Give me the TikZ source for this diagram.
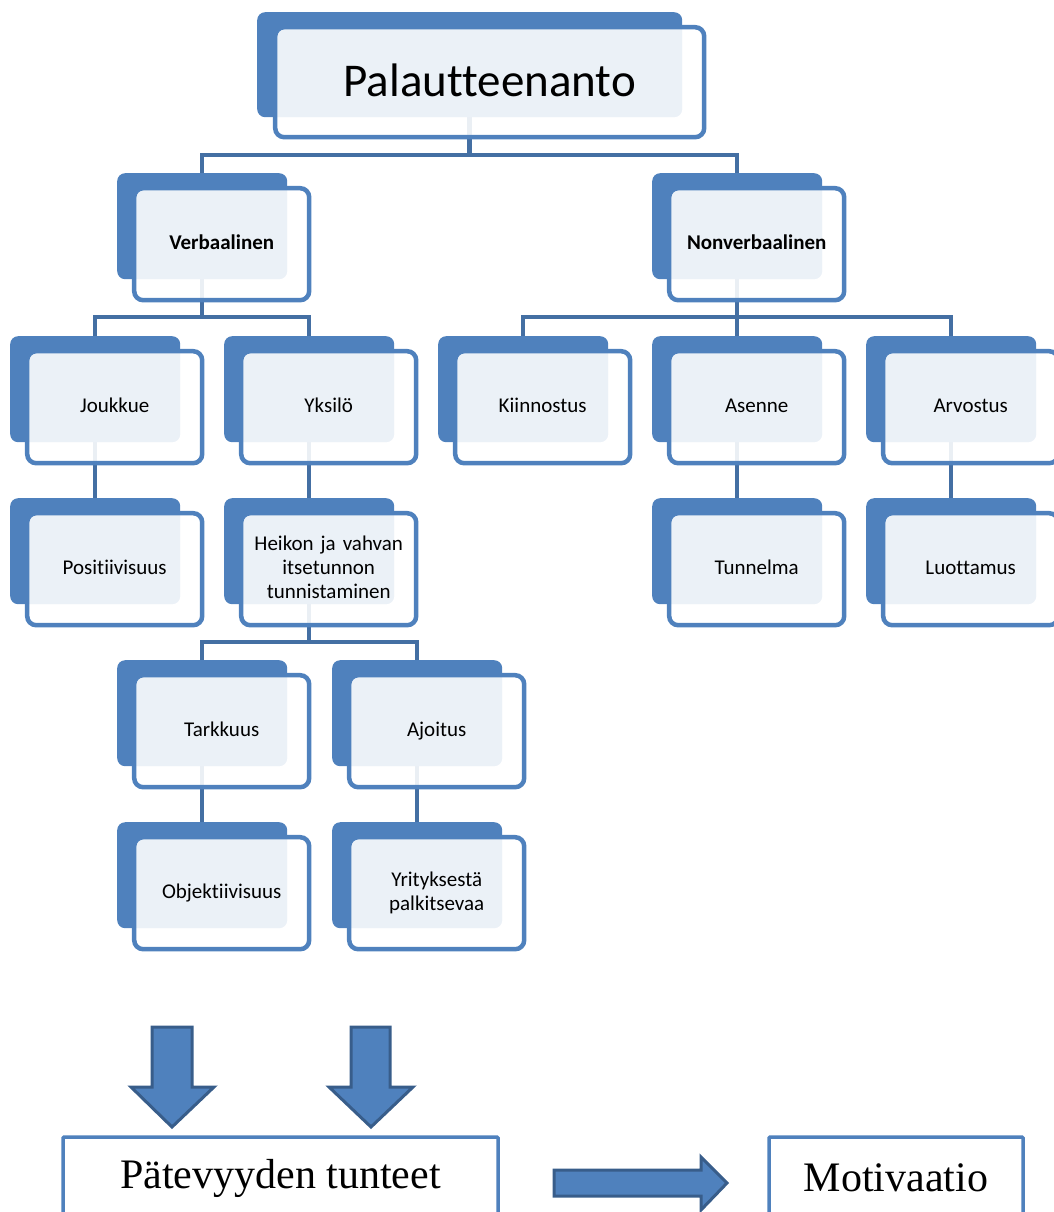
\documentclass[tikz,border=0pt]{standalone}
\usepackage{fontspec}
\setmainfont{Carlito}[Ligatures={NoCommon,TeX}]
\newfontfamily\serifface{Liberation Serif}
\usetikzlibrary{positioning}
\definecolor{boxblue}{RGB}{79,129,189}
\definecolor{lineblue}{RGB}{68,111,163}
\definecolor{edgeblue}{RGB}{56,93,138}
\pgfdeclarelayer{background}
\pgfsetlayers{background,main}

\tikzset{
   back/.style = {rectangle, rounded corners=8pt, fill=boxblue, inner sep=0pt,
                  minimum width=170pt, minimum height=106pt, anchor=north west},
   front/.style = {rectangle, rounded corners=9pt, draw=boxblue, line width=4.5pt,
                   fill=white, fill opacity=0.89, text opacity=1, align=center,
                   text width=160pt, inner xsep=7.5pt, inner ysep=0pt, minimum height=112pt,
                   execute at begin node=\strut, execute at end node=\strut,
                   font=\fontsize{21}{24}\selectfont},
   bold/.style = {font=\fontsize{21}{24}\selectfont\bfseries},
   conn/.style = {draw=lineblue, line width=4.5pt},
   outbox/.style = {rectangle, draw=boxblue, line width=3.5pt, fill=white, rounded corners=1pt,
                    minimum height=82pt, font=\serifface\fontsize{42}{50}\selectfont},
   blockarrow/.style = {fill=boxblue, draw=edgeblue, line width=3pt, line join=miter}
}

\begin{document}
\begin{tikzpicture}[x=1pt, y=-1pt]
   \useasboundingbox (0,0) rectangle (1053,1212);

   % top
   \node (pal)[back, minimum width=425pt, minimum height=105pt] at (257,12) {};
   \node (palf)[front, text width=414pt, minimum height=110pt, font=\fontsize{47}{74}\selectfont] at ([shift={(20,17.5)}]pal.center) {Palautteenanto};

   % first level
   \node (verb)[back] at (117,173) {};
   \node (verbf)[front, bold] at ([shift={(19.5,18)}]verb.center) {Verbaalinen};
   \node (nonv)[back] at (652,173) {};
   \node (nonvf)[front, bold] at ([shift={(19.5,18)}]nonv.center) {Nonverbaalinen};

   % second level
   \node (jouk)[back] at (10,336) {};
   \node (joukf)[front] at ([shift={(19.5,18)}]jouk.center) {Joukkue};
   \node (yksi)[back] at (224,336) {};
   \node (yksif)[front] at ([shift={(19.5,18)}]yksi.center) {Yksilö};
   \node (kiin)[back] at (438,336) {};
   \node (kiinf)[front] at ([shift={(19.5,18)}]kiin.center) {Kiinnostus};
   \node (asen)[back] at (652,336) {};
   \node (asenf)[front] at ([shift={(19.5,18)}]asen.center) {Asenne};
   \node (arvo)[back] at (866,336) {};
   \node (arvof)[front] at ([shift={(19.5,18)}]arvo.center) {Arvostus};

   % third level
   \node (posi)[back] at (10,498) {};
   \node (posif)[front] at ([shift={(19.5,18)}]posi.center) {Positiivisuus};
   \node (heik)[back] at (224,498) {};
   \node (heikf)[front] at ([shift={(19.5,18)}]heik.center) {Heikon ja vahvan\\itsetunnon\\tunnistaminen};
   \node (tunn)[back] at (652,498) {};
   \node (tunnf)[front] at ([shift={(19.5,18)}]tunn.center) {Tunnelma};
   \node (luot)[back] at (866,498) {};
   \node (luotf)[front] at ([shift={(19.5,18)}]luot.center) {Luottamus};

   % fourth and fifth level
   \node (tark)[back] at (117,660) {};
   \node (tarkf)[front] at ([shift={(19.5,18)}]tark.center) {Tarkkuus};
   \node (ajoi)[back] at (332,660) {};
   \node (ajoif)[front] at ([shift={(19.5,18)}]ajoi.center) {Ajoitus};
   \node (obje)[back] at (117,822) {};
   \node (objef)[front] at ([shift={(19.5,18)}]obje.center) {Objektiivisuus};
   \node (yrit)[back] at (332,822) {};
   \node (yritf)[front] at ([shift={(19.5,18)}]yrit.center) {Yrityksestä\\palkitsevaa};

   \coordinate (bar1) at (0,155);
   \coordinate (bar2) at (0,317);
   \coordinate (bar3) at (0,642);

   \begin{pgfonlayer}{background}
   \draw[conn] (pal.south) -- (pal.south |- bar1) -| (verb.north);
   \draw[conn] (pal.south) -- (pal.south |- bar1) -| (nonv.north);
   \draw[conn] (verb.south) -- (verb.south |- bar2) -| (jouk.north);
   \draw[conn] (verb.south) -- (verb.south |- bar2) -| (yksi.north);
   \draw[conn] (nonv.south) -- (nonv.south |- bar2) -| (kiin.north);
   \draw[conn] (nonv.south) -- (nonv.south |- bar2) -| (asen.north);
   \draw[conn] (nonv.south) -- (nonv.south |- bar2) -| (arvo.north);
   \draw[conn] (jouk.south) -- (posi.north);
   \draw[conn] (yksi.south) -- (heik.north);
   \draw[conn] (asen.south) -- (tunn.north);
   \draw[conn] (arvo.south) -- (luot.north);
   \draw[conn] (heik.south) -- (heik.south |- bar3) -| (tark.north);
   \draw[conn] (heik.south) -- (heik.south |- bar3) -| (ajoi.north);
   \draw[conn] (tark.south) -- (obje.north);
   \draw[conn] (ajoi.south) -- (yrit.north);
   \end{pgfonlayer}

   % outcome
   \node (pate)[outbox, minimum width=435pt] at (280.5,1178) {Pätevyyden tunteet};
   \node (moti)[outbox, minimum width=254pt] at (896,1178) {Motivaatio};

   \draw[blockarrow] (152,1027) -- (192,1027) -- (192,1087) -- (214,1087) -- (172,1127) -- (131,1087) -- (152,1087) -- cycle;
   \draw[blockarrow] (351,1027) -- (390,1027) -- (390,1087) -- (413,1087) -- (371,1127) -- (329,1087) -- (351,1087) -- cycle;
   \draw[blockarrow] (554,1170) -- (701,1170) -- (701,1157) -- (727,1183) -- (701,1210) -- (701,1196) -- (554,1196) -- cycle;
\end{tikzpicture}
\end{document}
